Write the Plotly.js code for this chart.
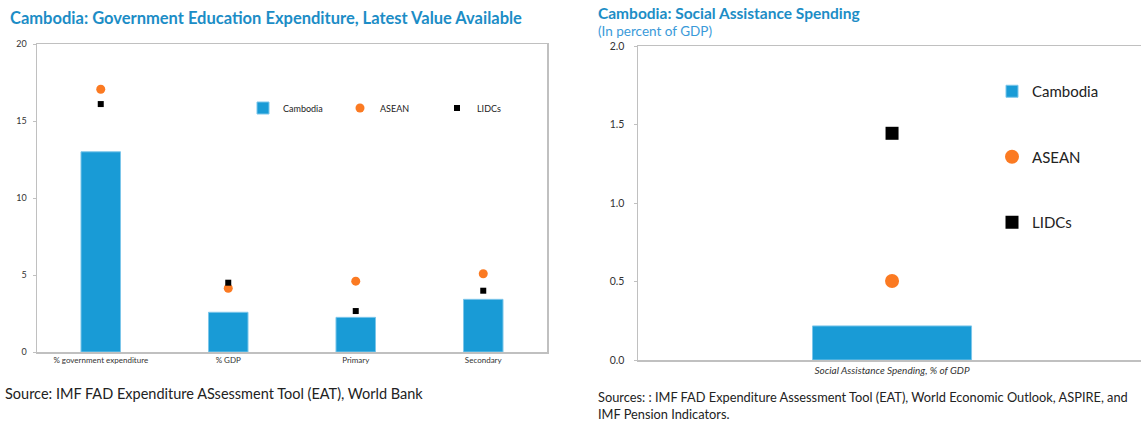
<!DOCTYPE html>
<html><head><meta charset="utf-8">
<script src="https://cdn.plot.ly/plotly-3.0.1.min.js"></script>
<style>html,body{margin:0;padding:0;background:#fff;overflow:hidden}#c{width:1141px;height:421px}</style>
</head><body><div id="c"></div>
<script>
// Left chart data
const eduCategories = ['% government expenditure', '% GDP', 'Primary', 'Secondary'];
const eduCambodia = [13.0, 2.58, 2.25, 3.42];
const eduASEAN = [17.06, 4.14, 4.6, 5.08];
const eduLIDCs = [16.1, 4.5, 2.66, 3.98];
const eduYTicks = [0, 5, 10, 15, 20];
// Right chart data
const saCategories = ['Social Assistance Spending, % of GDP'];
const saCambodia = [0.217];
const saASEAN = [0.503];
const saLIDCs = [1.444];
const saYTicks = [0, 0.5, 1.0, 1.5, 2.0];
const saYTickText = ['0.0', '0.5', '1.0', '1.5', '2.0'];

const BLUE = '#199bd6', ORANGE = '#fb7a22', BLACK = '#000000';
const FONT = 'Lato, "Open Sans", sans-serif';

const traces = [
  {type:'bar', x:eduCategories, y:eduCambodia, name:'Cambodia', xaxis:'x', yaxis:'y', width:0.31,
   marker:{color:BLUE, line:{color:'#7cc6ea', width:1}}, legend:'legend'},
  {type:'scatter', mode:'markers', x:eduCategories, y:eduASEAN, name:'ASEAN', xaxis:'x', yaxis:'y',
   marker:{color:ORANGE, size:9, symbol:'circle'}, legend:'legend'},
  {type:'scatter', mode:'markers', x:eduCategories, y:eduLIDCs, name:'LIDCs', xaxis:'x', yaxis:'y',
   marker:{color:BLACK, size:6, symbol:'square'}, legend:'legend'},
  {type:'bar', x:saCategories, y:saCambodia, name:'Cambodia', xaxis:'x2', yaxis:'y2', width:0.313,
   marker:{color:BLUE, line:{color:'#7cc6ea', width:1}}, legend:'legend2', legendgroup:'a'},
  {type:'scatter', mode:'markers', x:saCategories, y:saASEAN, name:'ASEAN', xaxis:'x2', yaxis:'y2',
   marker:{color:ORANGE, size:14, symbol:'circle'}, legend:'legend2', legendgroup:'b'},
  {type:'scatter', mode:'markers', x:saCategories, y:saLIDCs, name:'LIDCs', xaxis:'x2', yaxis:'y2',
   marker:{color:BLACK, size:13, symbol:'square'}, legend:'legend2', legendgroup:'c'}
];

const axLine = '#c0c0c0';
const layout = {
  width:1141, height:421, margin:{l:0,r:0,t:0,b:0},
  paper_bgcolor:'#fff', plot_bgcolor:'#fff',
  font:{family:FONT, color:'#222'},
  showlegend:true,
  bargap:0,
  xaxis:{domain:[37/1141, 547/1141], type:'category', range:[-0.5,3.5], showline:true, mirror:true,
         linecolor:axLine, linewidth:1.5, ticks:'', showgrid:false, zeroline:false,
         tickfont:{size:8, color:'#333'}, fixedrange:true},
  yaxis:{domain:[69/421, 377/421], range:[0,20], tickvals:eduYTicks, showline:true, mirror:true,
         linecolor:axLine, linewidth:1.5, ticks:'outside', ticklen:3, tickcolor:axLine,
         showgrid:false, zeroline:false, tickfont:{size:9, color:'#333'}, ticklabelstandoff:4},
  xaxis2:{domain:[638/1141, 1], type:'category', range:[-0.5,0.49], anchor:'y2', showline:true, mirror:true,
          linecolor:axLine, linewidth:1.5, ticks:'', showgrid:false, zeroline:false,
          tickfont:{size:10, color:'#333', style:'italic'}, ticklabelstandoff:0},
  yaxis2:{domain:[61/421, 375/421], range:[0,2], anchor:'x2', tickvals:saYTicks, ticktext:saYTickText,
          showline:true, linecolor:axLine, linewidth:1.5, ticks:'outside', ticklen:3, tickcolor:axLine,
          showgrid:false, zeroline:false, tickfont:{size:10.5, color:'#333'}, ticklabelstandoff:7},
  legend:{orientation:'h', x:243/1141, y:(421-108)/421, xanchor:'left', yanchor:'middle',
          entrywidth:52, font:{size:9, color:'#222'}, bgcolor:'rgba(0,0,0,0)', itemwidth:30},
  legend2:{orientation:'v', x:992/1141, y:(421-75)/421, xanchor:'left', yanchor:'top',
          tracegroupgap:43, font:{size:15, color:'#222'}, bgcolor:'rgba(0,0,0,0)', itemwidth:30},
  annotations:[
    {text:'<b>Cambodia: Government Education Expenditure, Latest Value Available</b>', xref:'paper', yref:'paper',
     x:8/1141, y:(421-18)/421, xanchor:'left', yanchor:'middle', showarrow:false,
     font:{size:16.5, color:'#1c8dc6', family:FONT}},
    {text:'Source: IMF FAD Expenditure ASsessment Tool (EAT), World Bank', xref:'paper', yref:'paper',
     x:3/1141, y:(421-393)/421, xanchor:'left', yanchor:'middle', showarrow:false,
     font:{size:14.5, color:'#222', family:FONT}},
    {text:'<b>Cambodia: Social Assistance Spending</b>', xref:'paper', yref:'paper',
     x:596/1141, y:(421-13)/421, xanchor:'left', yanchor:'middle', showarrow:false,
     font:{size:15.5, color:'#1c8dc6', family:FONT}},
    {text:'(In percent of GDP)', xref:'paper', yref:'paper',
     x:596/1141, y:(421-31)/421, xanchor:'left', yanchor:'middle', showarrow:false,
     font:{size:13.5, color:'#3a9ad9', family:FONT}},
    {text:'Sources: : IMF FAD Expenditure Assessment Tool (EAT), World Economic Outlook, ASPIRE, and<br>IMF Pension Indicators.', xref:'paper', yref:'paper',
     x:596/1141, y:(421-405)/421, xanchor:'left', yanchor:'middle', align:'left', showarrow:false,
     font:{size:12.8, color:'#222', family:FONT}}
  ]
};
Plotly.newPlot('c', traces, layout, {displayModeBar:false, staticPlot:true});
</script></body></html>
